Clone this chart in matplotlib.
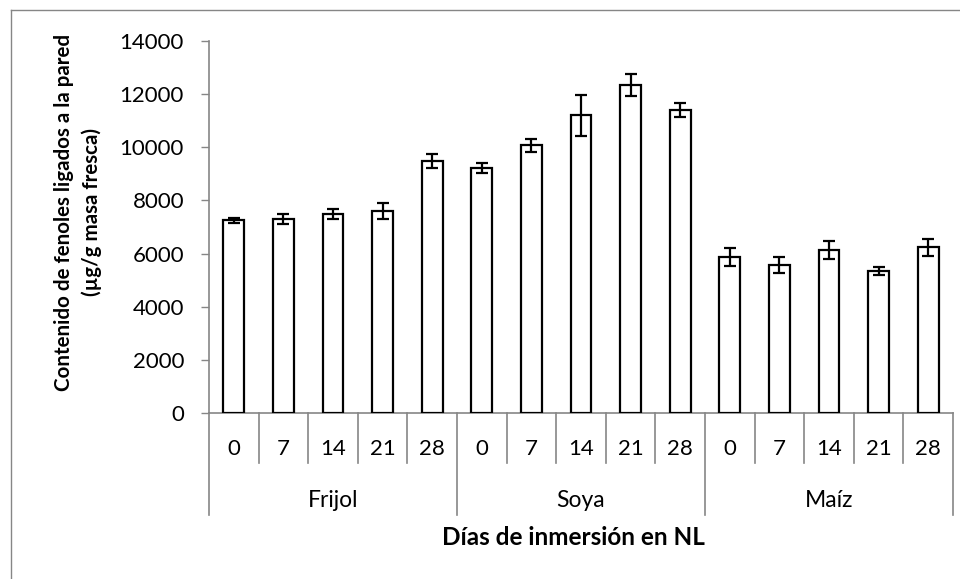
import numpy as np
import matplotlib
matplotlib.use("Agg")
import matplotlib.pyplot as plt
from matplotlib.lines import Line2D

plt.rcParams['font.family'] = ['Lato', 'DejaVu Sans']

# datos
cultivos = ["Frijol", "Soya", "Maíz"]
dias = ["0", "7", "14", "21", "28"]

frijol = [7260, 7310, 7500, 7610, 9480]
frijol_err = [95, 190, 185, 300, 255]
soya = [9220, 10070, 11200, 12350, 11390]
soya_err = [190, 235, 760, 420, 260]
maiz = [5870, 5570, 6145, 5355, 6235]
maiz_err = [345, 315, 340, 150, 330]

valores = frijol + soya + maiz
errores = frijol_err + soya_err + maiz_err

gris = "#868686"

fig = plt.figure(figsize=(9.6, 5.79), dpi=100)
ax = fig.add_axes([209/960, 1 - 413/579, 744/960, 372/579])

x = np.arange(len(valores))
ax.bar(x, valores, width=0.42, color="white", edgecolor="black", linewidth=1.6,
       yerr=errores, capsize=4.5,
       error_kw=dict(elinewidth=1.6, capthick=1.6, ecolor="black"), zorder=3)

ax.set_xlim(-0.5, len(valores) - 0.5)
ax.set_ylim(0, 14000)
ax.set_yticks(np.arange(0, 14001, 2000))
ax.tick_params(axis="y", direction="out", length=6, width=1, color=gris, pad=12, labelsize=16)
ax.set_xticks([])

for s in ["top", "right"]:
    ax.spines[s].set_visible(False)
ax.spines["left"].set_color(gris)
ax.spines["bottom"].set_color(gris)
ax.spines["left"].set_linewidth(1.2)
ax.spines["bottom"].set_linewidth(1.2)

# eje de categorias de dos niveles
tr = ax.get_xaxis_transform()
for k in range(len(valores) + 1):
    bajo = -0.274 if k % 5 == 0 else -0.134
    ax.plot([k - 0.5, k - 0.5], [0, bajo], color=gris, lw=1.2, transform=tr, clip_on=False)

for i in range(len(valores)):
    ax.text(i, -0.097, dias[i % 5], transform=tr, ha="center", va="center", fontsize=16)

for g, nombre in enumerate(cultivos):
    ax.text(g * 5 + 2, -0.235, nombre, transform=tr, ha="center", va="center", fontsize=16.5)

ax.text(0.49, -0.335, "Días de inmersión en NL", transform=ax.transAxes,
        ha="center", va="center", fontsize=17.5, fontweight="bold")

ax.text(-0.176, 0.54, "Contenido de fenoles ligados a la pared\n(µg/g masa fresca)",
        transform=ax.transAxes, rotation=90, ha="center", va="center",
        multialignment="center", fontsize=14.8, fontweight="bold", linespacing=1.4,
        family=["Liberation Sans Narrow", "Lato", "DejaVu Sans"])

# marco exterior del grafico
fig.add_artist(Line2D([11/960, 11/960], [0, 1 - 10/579], transform=fig.transFigure, color=gris, lw=1))
fig.add_artist(Line2D([11/960, 1], [1 - 10/579, 1 - 10/579], transform=fig.transFigure, color=gris, lw=1))

fig.savefig("out.png", dpi=100)
